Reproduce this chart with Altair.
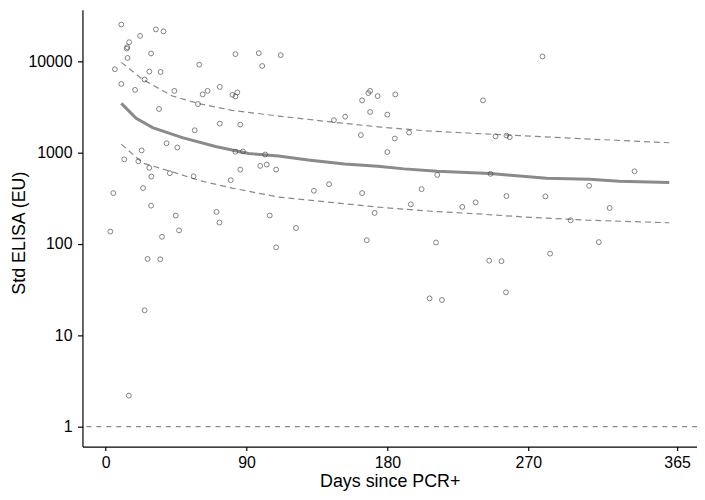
import altair as alt
import pandas as pd

# Observed samples (days since PCR+, Std ELISA EU)
point_days = [10, 32.1, 37.0, 22.0, 15.0, 13.8, 13.5, 29.0, 82.9, 97.8, 111.8, 14.0,
              100.0, 59.8, 5.9, 27.9, 35.1, 24.9, 10.0, 18.8, 43.9, 65.1, 62.0, 72.9,
              81.0, 84.1, 82.9, 59.0, 34.1, 56.9, 72.9, 86.0, 38.9, 45.8, 23.0, 11.9,
              20.9, 82.9, 87.7, 101.9, 27.9, 29.2, 41.0, 56.2, 86.0, 98.7, 102.9, 108.9,
              79.9, 4.9, 23.9, 29.0, 44.8, 70.8, 72.7, 104.8, 121.6, 3.0, 46.9, 36.0,
              108.9, 26.8, 34.9, 24.9, 14.8,
              168.9, 167.8, 173.7, 185.0, 163.8, 168.9, 179.9, 145.8, 153.0, 163.0,
              184.7, 193.8, 179.9, 211.8, 133.0, 142.7, 163.8, 201.8, 194.9, 227.8,
              236.3, 171.8, 166.8, 211.0, 206.9, 214.8,
              279.0, 241.0, 249.0, 256.0, 258.1, 245.8, 337.8, 308.8, 256.0, 280.9,
              321.9, 297.0, 315.0, 245.0, 252.8, 255.7, 283.9]
point_elisa = [25300, 22400, 21300, 19000, 16200, 14300, 13800, 12200, 12000, 12300, 11700, 10900,
               8900, 9200, 8200, 7730, 7650, 6330, 5660, 4870, 4750, 4750, 4350, 5250,
               4300, 4570, 4130, 3410, 3010, 1760, 2080, 2030, 1270, 1140, 1060, 845,
               805, 1025, 1033, 955, 682, 548, 596, 552, 653, 717, 741, 653,
               500, 361, 410, 263, 205, 225, 172, 205, 150, 137, 141, 120,
               92, 68.7, 68.2, 18.8, 2.19,
               4750, 4490, 4165, 4350, 3740, 2790, 2610, 2270, 2480, 1560,
               1430, 1660, 1017, 571, 383, 452, 361, 399, 272, 255,
               286, 219, 110, 104, 25.4, 24.4,
               11300, 3740, 1510, 1540, 1480, 587, 626, 434, 335, 332,
               248, 182, 105, 65.8, 64.9, 29.6, 78.5]

# Fitted curve
fit_days = [10, 19.5, 30, 49, 70.2, 91.3, 110.3, 129.4, 152.6, 173.7, 190.7, 211.8,
            245.6, 281.5, 309, 328, 360]
fit_elisa = [3470, 2380, 1880, 1460, 1170, 980, 920, 830, 753, 710, 665, 626,
             591, 526, 513, 488, 472]

# Confidence band
band_days = [10, 23.7, 42.7, 59.6, 80.7, 110.3, 142, 173.7, 205.5, 237.2, 266.8, 309, 360]
band_upper = [9750, 6330, 4170, 3440, 2910, 2520, 2190, 1920, 1730, 1620, 1530, 1410, 1285]
band_lower = [1240, 770, 616, 497, 410, 327, 288, 254, 230, 214, 198, 182, 171]

x_ticks = [0, 90, 180, 270, 365]
y_ticks = [1, 10, 100, 1000, 10000]
limit_value = [1]

points_df = pd.DataFrame({"day": point_days, "elisa": point_elisa})
fit_df = pd.DataFrame({"day": fit_days, "elisa": fit_elisa})
band_df = pd.DataFrame({
    "day": band_days * 2,
    "elisa": band_upper + band_lower,
    "side": ["upper"] * len(band_days) + ["lower"] * len(band_days),
})
limit_df = pd.DataFrame({"elisa": limit_value})

GREY = "#8a8a8a"
FONT = "Liberation Sans"

xscale = alt.Scale(domain=[-14.8, 377.7], nice=False, zero=False)
yscale = alt.Scale(type="log", domain=[0.606, 36740], nice=False)

x_axis = alt.Axis(values=x_ticks, title="Days since PCR+", grid=False,
                  tickSize=4, labelPadding=4.5, titleY=40,
                  titleBaseline="alphabetic", labelFlush=False)
y_axis = alt.Axis(values=y_ticks, format="d", title="Std ELISA (EU)", grid=False,
                  tickSize=5, labelPadding=5.5, titleX=-58, titleY=224.5,
                  titleBaseline="alphabetic", titleAngle=270)

X = alt.X("day:Q", scale=xscale, axis=x_axis)
Y = alt.Y("elisa:Q", scale=yscale, axis=y_axis)

limit_rule = alt.Chart(limit_df).mark_rule(
    color=GREY, strokeWidth=1.2, strokeDash=[5, 5]
).encode(y=alt.Y("elisa:Q", scale=yscale, axis=y_axis))

pts = alt.Chart(points_df).mark_point(
    shape="circle", filled=False, color="#3a3a3a", size=24, strokeWidth=0.9
).encode(x=X, y=Y)

fit_line = alt.Chart(fit_df).mark_line(
    color=GREY, strokeWidth=3
).encode(x=X, y=Y)

band_lines = alt.Chart(band_df).mark_line(
    color=GREY, strokeWidth=1.2, strokeDash=[6, 4]
).encode(x=X, y=Y, detail="side:N")

chart = alt.layer(limit_rule, band_lines, fit_line, pts).properties(
    width=619,
    height=440,
    autosize=alt.AutoSizeParams(type="none"),
    padding={"left": 75, "top": 0, "right": 0, "bottom": 44},
).configure_view(
    stroke=None
).configure_axis(
    domainColor="black", domainWidth=1.2, tickColor="black", tickWidth=1.2,
    labelColor="black", labelFont=FONT, labelFontSize=16,
    titleColor="black", titleFont=FONT, titleFontSize=18, titleFontWeight="normal",
)

chart.save("out.html", embed_options={"renderer": "svg", "actions": False})
